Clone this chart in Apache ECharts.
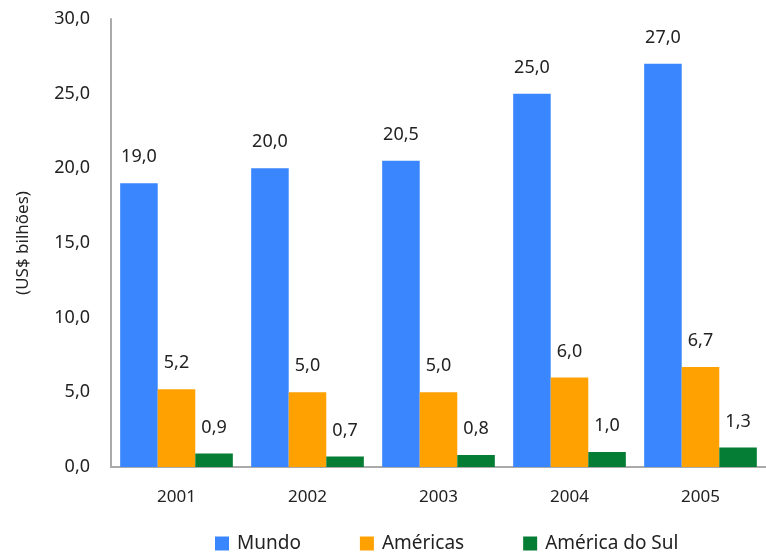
<!DOCTYPE html>
<html><head><meta charset="utf-8">
<script src="https://cdn.jsdelivr.net/npm/echarts@6/dist/echarts.min.js"></script>
<style>html,body{margin:0;padding:0;background:#fff}#c{width:766px;height:555px}</style>
</head><body><div id="c"></div>
<script>
const categories = ['2001','2002','2003','2004','2005'];
const mundo = [19.0, 20.0, 20.5, 25.0, 27.0];
const americas = [5.2, 5.0, 5.0, 6.0, 6.7];
const americaSul = [0.9, 0.7, 0.8, 1.0, 1.3];
const seriesNames = ['Mundo','Américas','América do Sul'];
const colors = ['#3a86ff','#ffa100','#067d34'];
const fmt = v => v.toFixed(1).replace('.', ',');
const font = '"Noto Sans", "Open Sans", sans-serif';
const chart = echarts.init(document.getElementById('c'));
const mk = (name, data, color) => ({
  name, type:'bar', data, barGap:'0%', barCategoryGap:'14%',
  itemStyle:{color},
  label:{show:true, position:'top', distance:17, formatter:p=>fmt(p.value), color:'#222', fontSize:18, fontFamily:font}
});
chart.setOption({
  animation:false,
  textStyle:{fontFamily:font},
  grid:{left:111, right:-10, top:19, bottom:88, containLabel:false},
  legend:{top:529, left:210, itemWidth:14, itemHeight:14, itemGap:59, icon:'rect',
    textStyle:{fontSize:19, color:'#222', fontFamily:font, padding:[0,0,0,3]}, data:seriesNames},
  xAxis:{type:'category', data:categories,
    axisLine:{lineStyle:{color:'#aaa', width:2}}, axisTick:{show:false},
    axisLabel:{fontSize:17, color:'#222', margin:22, fontFamily:font}},
  yAxis:{type:'value', min:0, max:30, interval:5,
    name:'(US$ bilhões)', nameLocation:'middle', nameGap:79, nameRotate:90,
    nameTextStyle:{fontSize:17, color:'#222', fontFamily:font},
    axisLine:{show:true, lineStyle:{color:'#aaa', width:2}}, axisTick:{show:false},
    splitLine:{show:false},
    axisLabel:{fontSize:18, color:'#222', margin:21, formatter:v=>fmt(v), fontFamily:font}},
  series:[mk(seriesNames[0], mundo, colors[0]), mk(seriesNames[1], americas, colors[1]), mk(seriesNames[2], americaSul, colors[2])]
});
</script></body></html>
